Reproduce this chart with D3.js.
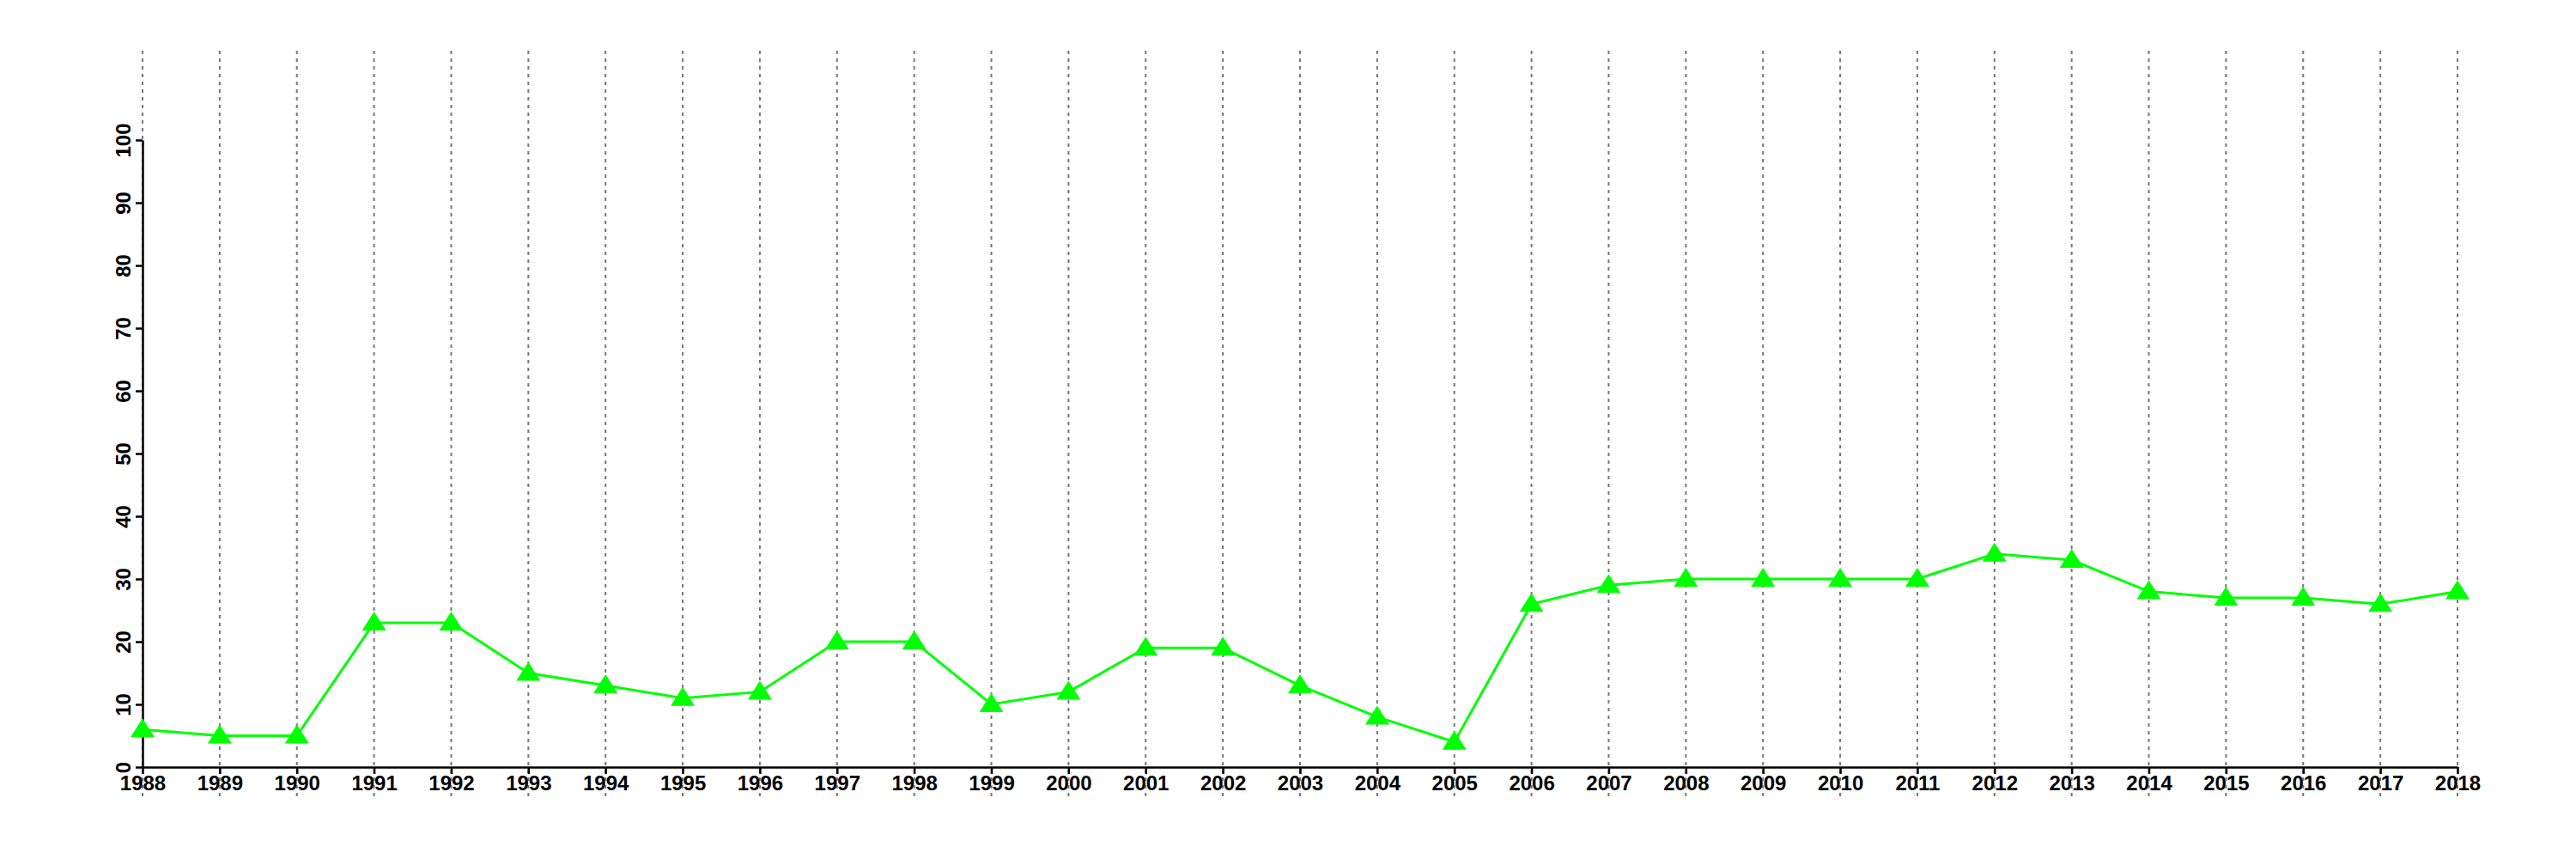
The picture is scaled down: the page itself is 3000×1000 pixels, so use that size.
<!DOCTYPE html>
<html>
<head>
<meta charset="utf-8">
<script src="https://cdn.jsdelivr.net/npm/d3@7"></script>
<style>
  html, body { margin: 0; padding: 0; background: #ffffff; }
  svg { display: block; }
</style>
</head>
<body>
<svg id="chart" width="3000" height="1000"></svg>
<script>
const years = [1988,1989,1990,1991,1992,1993,1994,1995,1996,1997,1998,1999,2000,2001,2002,2003,2004,2005,2006,2007,2008,2009,2010,2011,2012,2013,2014,2015,2016,2017,2018];
const values = [6,5,5,23,23,15,13,11,12,20,20,10,12,19,19,13,8,4,26,29,30,30,30,30,34,33,28,27,27,26,28];
const yTicks = [0,10,20,30,40,50,60,70,80,90,100];

const svg = d3.select("#chart");
const font = "'Liberation Sans', Arial, Helvetica, sans-serif";

const x = d3.scaleLinear().domain([1988, 2018]).range([166, 2862]);
const y = d3.scaleLinear().domain([0, 100]).range([893, 163]);

// vertical dotted grid lines
svg.append("g").selectAll("line").data(years).join("line")
  .attr("x1", d => x(d)).attr("x2", d => x(d))
  .attr("y1", 59).attr("y2", 928)
  .attr("stroke", "#777777").attr("stroke-width", 2)
  .attr("stroke-dasharray", "4,5");

// x axis
const xAxis = d3.axisBottom(x).tickValues(years).tickFormat(d3.format("d")).tickSize(8).tickSizeOuter(0).tickPadding(2);
const gx = svg.append("g").attr("transform", `translate(0,${y(0)})`).call(xAxis);
gx.select(".domain").attr("stroke", "#000").attr("stroke-width", 2.5);
gx.selectAll(".tick line").attr("stroke", "#000").attr("stroke-width", 2.5);
gx.selectAll(".tick text").attr("fill", "#000").attr("font-family", font)
  .attr("font-weight", "bold").attr("font-size", 24);

// y axis
const yAxis = d3.axisLeft(y).tickValues(yTicks).tickFormat(d3.format("d")).tickSize(8).tickSizeOuter(0).tickPadding(12);
const gy = svg.append("g").attr("transform", `translate(${x(1988)},0)`).call(yAxis);
gy.select(".domain").attr("stroke", "#000").attr("stroke-width", 2.5);
gy.selectAll(".tick line").attr("stroke", "#000").attr("stroke-width", 2.5);
gy.selectAll(".tick text").attr("fill", "#000").attr("font-family", font)
  .attr("font-weight", "bold").attr("font-size", 24)
  .attr("x", 0).attr("dy", null).attr("y", 0)
  .attr("text-anchor", "middle")
  .attr("transform", "translate(-14,0) rotate(-90)");

// line
const line = d3.line().x((d, i) => x(years[i])).y(d => y(d));
svg.append("path").datum(values)
  .attr("d", line).attr("fill", "none")
  .attr("stroke", "#00ff00").attr("stroke-width", 3);

// triangle markers
svg.append("g").selectAll("path").data(values).join("path")
  .attr("transform", (d, i) => `translate(${x(years[i])},${y(d)})`)
  .attr("d", "M0,-13 L14,9 L-14,9 Z")
  .attr("fill", "#00ff00");
</script>
</body>
</html>
